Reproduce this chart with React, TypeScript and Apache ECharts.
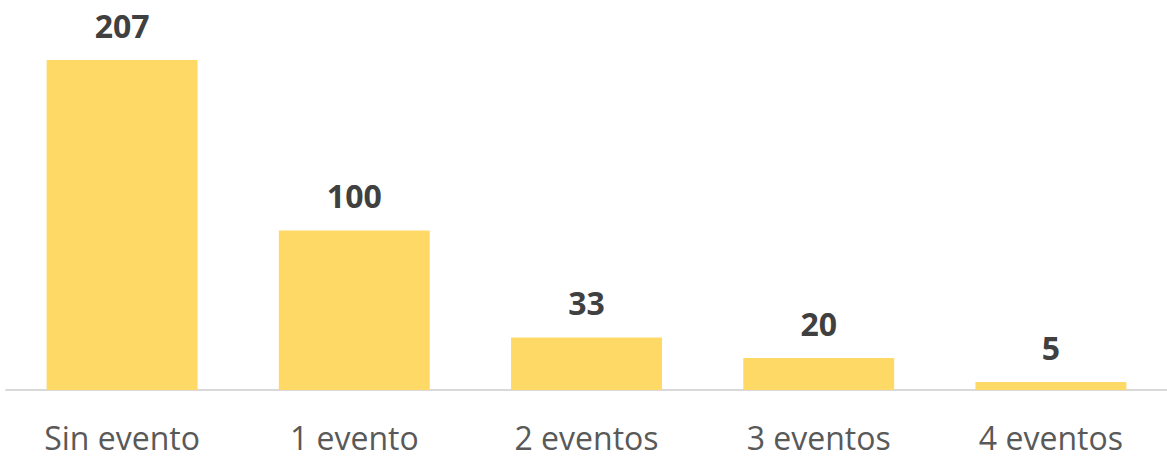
import React, { useEffect, useRef } from "react";
import * as echarts from "echarts";

const categories = ["Sin evento", "1 evento", "2 eventos", "3 eventos", "4 eventos"];
const values = [207, 100, 33, 20, 5];

export default function App() {
  const ref = useRef<HTMLDivElement>(null);
  useEffect(() => {
    if (!ref.current) return;
    const chart = echarts.init(ref.current, undefined, { renderer: "svg" });
    chart.setOption({
      animation: false,
      grid: { left: 6, width: 1168, top: 60, bottom: 67, containLabel: false },
      xAxis: {
        type: "category",
        data: categories,
        axisTick: { show: false },
        axisLine: { show: true, lineStyle: { color: "#D9D9D9", width: 2 } },
        axisLabel: {
          color: "#595959",
          fontFamily: "Open Sans",
          fontSize: 32,
          lineHeight: 34,
          margin: 30,
        },
      },
      yAxis: {
        type: "value",
        min: 0,
        max: 207,
        show: false,
        splitLine: { show: false },
      },
      series: [
        {
          type: "bar",
          data: values,
          barCategoryGap: "35%",
          itemStyle: { color: "#FFD966" },
          label: {
            show: true,
            position: "top",
            distance: 19,
            color: "#404040",
            fontFamily: "Open Sans",
            fontWeight: "bold",
            fontSize: 32,
          },
        },
      ],
    });
    return () => chart.dispose();
  }, []);
  return (
    <div
      ref={ref}
      style={{ position: "absolute", left: 0, top: 0, width: 1167, height: 457, background: "#fff" }}
    />
  );
}
